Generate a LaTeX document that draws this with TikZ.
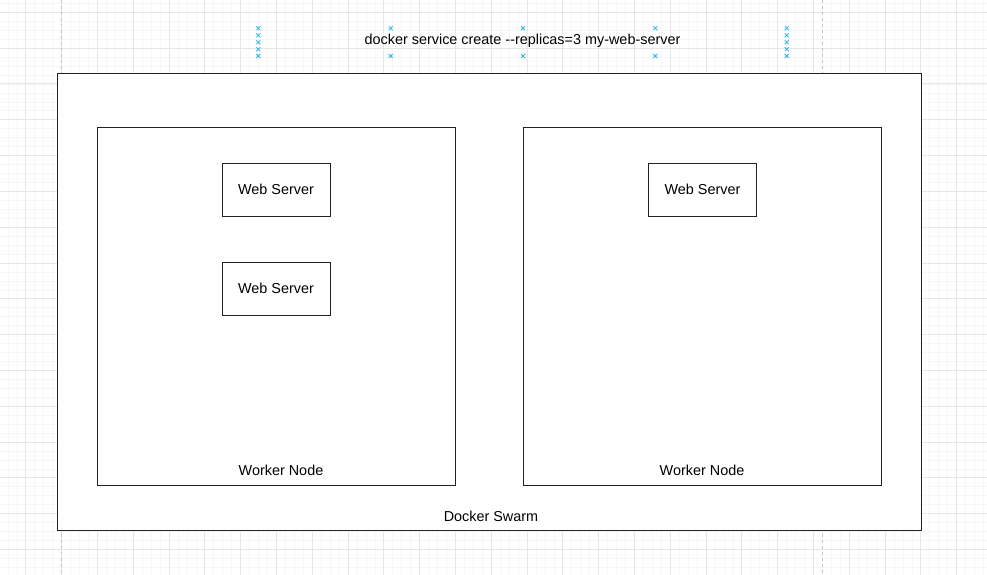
\documentclass[tikz,border=0pt]{standalone}
\usepackage{fontspec}
\setmainfont{Liberation Sans}
\definecolor{gridminor}{HTML}{F6F6F6}
\definecolor{gridmajor}{HTML}{E6E6E6}
\definecolor{handleblue}{HTML}{29B6F2}
\definecolor{pageline}{HTML}{C4C4C4}
\definecolor{edge}{HTML}{222222}
\begin{document}
\begin{tikzpicture}[x=1pt,y=-1pt,
  box/.style={draw=edge, line width=1pt, fill=white, inner sep=0pt, anchor=north west},
  ws/.style={draw=edge, line width=1pt, fill=white, inner sep=0pt, minimum width=108pt, minimum height=53pt, font=\fontsize{14.4}{16}\selectfont},
  lbl/.style={font=\fontsize{14.4}{16}\selectfont, inner sep=0pt},
  handle/.style={draw=handleblue, line width=0.8pt}]
\useasboundingbox (0,0) rectangle (987,575);
\fill[white] (0,0) rectangle (987,575);
% minor grid
\foreach \i in {0,...,111} {
  \draw[gridminor, line width=0.5pt] ({-1.15+8.95*\i},0) -- ({-1.15+8.95*\i},575);
}
\foreach \i in {0,...,65} {
  \draw[gridminor, line width=0.5pt] (0,{3.35+8.95*\i}) -- (987,{3.35+8.95*\i});
}
% major grid
\foreach \i in {0,...,27} {
  \draw[gridmajor, line width=0.8pt] ({25.7+35.8*\i},0) -- ({25.7+35.8*\i},575);
}
\foreach \i in {0,...,16} {
  \draw[gridmajor, line width=0.8pt] (0,{12.3+35.8*\i}) -- (987,{12.3+35.8*\i});
}
% page break lines
\draw[pageline, dashed, line width=0.8pt] (61.7,0) -- (61.7,575);
\draw[pageline, dashed, line width=0.8pt] (822.7,0) -- (822.7,575);
% selection handles
\foreach \x/\y in {258.3/28.3,258.3/35.3,258.3/42.3,258.3/49.2,258.3/56,
                   390.7/28.3,390.7/56,523/28.3,523/56,655.3/28.3,655.3/56,
                   786.7/28.3,786.7/35.3,786.7/42.3,786.7/49.2,786.7/56} {
  \draw[handle] (\x-2,\y-2) -- (\x+2,\y+2) (\x-2,\y+2) -- (\x+2,\y-2);
}
% title
\node[lbl] (cmd) at (522.5,41) {docker service create -{}-replicas=3 my-web-server};
% swarm
\node[box, minimum width=864pt, minimum height=457pt] (swarm) at (57,73) {};
\node[box, minimum width=358pt, minimum height=358pt] (wl) at (97,127) {};
\node[box, minimum width=358pt, minimum height=358pt] (wr) at (523,127) {};
\node[ws] (ws1) at (276,189.5) {Web Server};
\node[ws] (ws2) at (276,288.5) {Web Server};
\node[ws] (ws3) at (702.5,189.5) {Web Server};
\node[lbl] (wll) at (281,470) {Worker Node};
\node[lbl] (wrl) at (702,470) {Worker Node};
\node[lbl] (sl) at (491,516) {Docker Swarm};
\end{tikzpicture}
\end{document}
